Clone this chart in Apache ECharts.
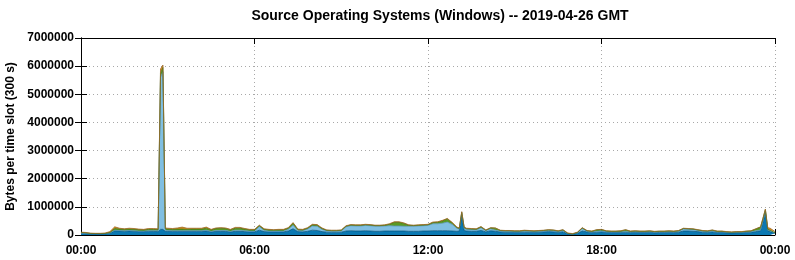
<!DOCTYPE html>
<html>
<head>
<meta charset="utf-8">
<script src="https://cdn.jsdelivr.net/npm/echarts@6/dist/echarts.min.js"></script>
<style>
html,body{margin:0;padding:0;background:#fff;}
#chart{width:795px;height:260px;}
</style>
</head>
<body>
<div id="chart"></div>
<script>
// Time of each sample, minutes after 00:00 GMT
const minutes = [0,10,20,30,40,50,60,70,80,90,100,110,120,130,140,150,160,165,170,175,
180,190,200,210,220,230,240,250,260,270,280,290,300,310,320,330,340,350,
360,370,380,390,400,410,420,430,440,450,460,470,480,490,500,510,520,530,540,550,
560,570,580,590,600,610,620,630,640,650,660,670,680,690,700,710,720,730,740,750,
760,770,780,785,790,795,800,810,820,830,840,850,860,870,880,890,900,910,920,930,
940,950,960,970,980,990,1000,1010,1020,1030,1040,1050,1060,1070,1080,1090,1100,
1110,1120,1130,1140,1150,1160,1170,1180,1190,1200,1210,1220,1230,1240,1250,1260,
1270,1280,1290,1300,1310,1320,1330,1340,1350,1360,1370,1380,1390,1400,1410,1415,
1420,1425,1430,1440];

// Bytes per slot, in thousands
const darkBlueK = [50,45,40,40,40,45,60,150,140,130,140,130,120,120,130,130,120,200,200,130,
130,130,130,130,130,130,130,130,140,110,130,130,130,110,130,130,120,110,
110,170,120,110,110,110,110,140,220,120,110,130,170,160,120,100,100,100,100,140,
150,140,140,150,140,130,130,140,140,140,140,140,130,130,130,140,140,150,150,150,
150,140,130,140,700,160,140,130,130,160,110,150,130,110,100,100,100,100,100,100,
100,100,110,120,110,100,110,40,25,60,140,110,90,100,110,100,90,
90,90,100,90,100,90,90,100,80,90,90,100,90,100,140,140,
130,120,100,100,110,90,90,80,70,80,80,90,100,120,150,450,
800,150,120,60];
const lightBlueK = [10,10,5,5,5,5,10,20,20,20,20,20,20,20,20,25,30,5400,5600,40,
30,20,20,20,20,20,20,20,30,20,30,30,30,20,40,40,30,30,
30,130,40,30,30,30,30,60,130,40,40,80,150,150,80,40,35,35,40,150,
180,180,180,190,190,180,180,180,190,180,180,170,180,180,190,190,200,250,250,270,
310,240,110,70,80,80,60,60,50,100,40,70,40,30,30,30,20,20,20,30,
20,30,30,40,40,20,50,10,5,20,90,20,20,30,40,20,20,
20,20,20,20,20,20,20,20,20,20,20,20,20,30,70,60,
60,40,30,20,30,20,20,15,15,15,15,20,20,30,30,50,
60,30,30,10];
const greenK = [30,25,10,5,5,5,20,60,50,50,50,50,50,40,50,45,40,150,150,50,
50,50,60,60,50,60,60,60,70,50,70,80,70,50,70,70,60,40,
40,30,40,40,30,40,40,40,70,30,30,30,40,40,30,25,20,20,25,25,
25,25,25,25,25,25,25,25,50,130,130,100,35,25,25,25,25,40,50,80,
110,50,25,25,30,25,25,25,25,25,20,30,70,20,20,20,20,20,40,20,
20,20,20,20,20,20,20,10,5,10,20,20,20,50,40,20,20,
20,30,60,20,20,20,20,20,20,20,20,20,20,20,20,20,
20,20,20,20,30,20,20,15,15,15,15,20,20,60,100,80,
40,20,20,10];
const orangeK = [10,10,10,10,10,15,30,60,30,20,30,30,20,20,30,30,30,150,90,30,
30,30,40,70,40,30,30,30,40,20,20,20,20,20,30,30,20,20,
20,20,20,20,20,20,20,20,20,20,20,20,20,20,20,15,15,15,15,15,
15,15,15,15,15,15,15,15,20,20,20,20,15,15,15,15,15,20,20,20,
20,20,15,15,20,15,15,15,15,15,10,10,10,10,10,10,10,10,10,10,
10,10,10,10,10,10,10,10,15,10,10,10,10,10,10,10,10,
10,10,10,10,10,10,10,10,10,10,10,10,10,10,10,10,
10,10,10,10,10,10,10,10,10,10,10,10,10,10,10,20,
20,60,70,40];

const xTickLabels = ['00:00','06:00','12:00','18:00','00:00'];
const titleText = 'Source Operating Systems (Windows) -- 2019-04-26 GMT';
const yName = 'Bytes per time slot (300 s)';

const DAY0 = Date.UTC(2019, 3, 26, 0, 0, 0);
const MIN = 60000;
function pairs(arr){ return arr.map((v,i)=>[DAY0 + minutes[i]*MIN, v*1000]); }

const layers = [
  {name:'A', data: darkBlueK, fill:'#0a78b2', line:'#06557f'},
  {name:'B', data: lightBlueK, fill:'#80bfe2', line:'#5a94b8'},
  {name:'C', data: greenK, fill:'#5a9a22', line:'#3f7414'},
  {name:'D', data: orangeK, fill:'#e08c1c', line:'#9a6a2a'}
];

const chart = echarts.init(document.getElementById('chart'), null, {renderer:'canvas'});
const fontFam = '"Liberation Sans", Arial, sans-serif';
const dotted = {show:true, lineStyle:{color:'#a8a8a8', type:[1,3], width:1}};
chart.setOption({
  animation:false,
  useUTC:true,
  backgroundColor:'#fff',
  title:{text:titleText, left:435, textAlign:'center', top:4,
    textStyle:{fontFamily:fontFam, fontWeight:'bold', fontSize:14, color:'#000'}},
  grid:{left:81, right:20, top:38, bottom:25, containLabel:false, outerBoundsMode:'none'},
  xAxis:[{
    // data axis (hidden): series are placed on it by their timestamps
    type:'time', min:DAY0, max:DAY0 + 1440*MIN, show:false, position:'bottom'
  },{
    // visible bottom axis in minutes of the day
    type:'value', min:0, max:1440, interval:360, position:'bottom',
    axisLine:{show:true, onZero:false, lineStyle:{color:'#000', width:1}},
    axisTick:{show:true, inside:true, length:6, lineStyle:{color:'#000'}},
    axisLabel:{margin:10, fontFamily:fontFam, fontWeight:'bold', fontSize:12, color:'#000',
      formatter:v=>xTickLabels[Math.round(v/360)]},
    splitLine:dotted
  },{
    type:'value', min:0, max:1440, interval:360, position:'top',
    axisLine:{show:true, onZero:false, lineStyle:{color:'#000', width:1}},
    axisTick:{show:true, inside:true, length:6, lineStyle:{color:'#000'}},
    axisLabel:{show:false}, splitLine:{show:false}
  }],
  yAxis:[{
    type:'value', min:0, max:7000000, interval:1000000, position:'left',
    name:yName, nameLocation:'middle', nameGap:62, nameRotate:90,
    nameTextStyle:{fontFamily:fontFam, fontWeight:'bold', fontSize:12, color:'#000'},
    axisLine:{show:true, lineStyle:{color:'#000', width:1}},
    axisTick:{show:true, inside:true, length:6, lineStyle:{color:'#000'}},
    axisLabel:{margin:7, fontFamily:fontFam, fontWeight:'bold', fontSize:12, color:'#000',
      formatter:v=>String(v)},
    splitLine:dotted
  },{
    type:'value', min:0, max:7000000, interval:1000000, position:'right',
    axisLine:{show:true, lineStyle:{color:'#000', width:1}},
    axisTick:{show:true, inside:true, length:6, lineStyle:{color:'#000'}},
    axisLabel:{show:false}, splitLine:{show:false}
  }],
  series: layers.map(l=>({
    name:l.name, type:'line', stack:'total', xAxisIndex:0, yAxisIndex:0,
    data:pairs(l.data), symbol:'none', smooth:false,
    lineStyle:{color:l.line, width:0.8},
    areaStyle:{color:l.fill, opacity:1},
    z:2
  }))
});
</script>
</body>
</html>
